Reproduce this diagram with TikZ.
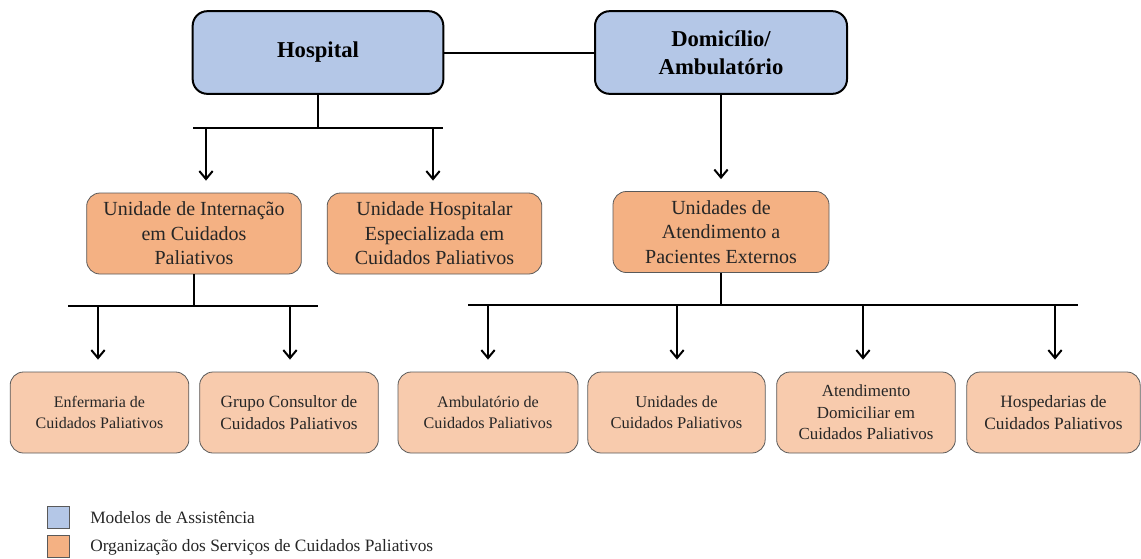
\documentclass[tikz,border=0pt]{standalone}
\usepackage{fontspec}
\setmainfont{Liberation Serif}
\usetikzlibrary{arrows.meta}
\definecolor{modelblue}{HTML}{B4C7E7}
\definecolor{orgorange}{HTML}{F4B183}
\definecolor{lightorange}{HTML}{F8CBAD}
\definecolor{txt}{HTML}{262626}
\tikzset{
  model/.style={draw=black, line width=1.5pt, fill=modelblue, rounded corners=11pt,
    minimum width=188pt, minimum height=62pt, align=center, inner sep=0pt,
    font=\fontsize{17}{21}\selectfont\bfseries, text=black},
  unitbox/.style={draw=black!65, line width=0.6pt, fill=orgorange, rounded corners=10pt,
    minimum width=161pt, minimum height=60.75pt, align=center, inner sep=0pt,
    font=\fontsize{15}{18.4}\selectfont, text=txt},
  servicebox/.style={draw=black!65, line width=0.6pt, fill=lightorange, rounded corners=10pt,
    minimum width=134pt, minimum height=60.75pt, align=center, inner sep=0pt,
    font=\fontsize{#1}{16}\selectfont, text=txt},
  servicebox/.default=12,
  link/.style={line width=1.5pt, black},
  arrowlink/.style={link, -{Straight Barb[length=6pt,width=10pt,line width=1.5pt]}, shorten >=9pt},
  legendbox/.style={draw=black!65, line width=0.6pt, minimum width=16.5pt, minimum height=16pt, inner sep=0pt},
  legendtext/.style={anchor=west, font=\fontsize{13}{15}\selectfont, text=txt, inner sep=0pt}
}
\begin{document}
\begin{tikzpicture}[x=0.75pt, y=-0.75pt]
\useasboundingbox (0,0) rectangle (1141,558);

% top models
\node[model] (hosp) at (318,52.5) {Hospital};
\node[model, minimum width=189pt] (dom) at (721,52.5) {Domicílio/\\Ambulatório};

% second row
\node[unitbox] (intern) at (194,233.5) {Unidade de Internação\\em Cuidados\\Paliativos};
\node[unitbox] (hospesp) at (434.5,233.5) {Unidade Hospitalar\\Especializada em\\Cuidados Paliativos};
\node[unitbox, minimum width=162pt] (atend) at (721,232) {Unidades de\\Atendimento a\\Pacientes Externos};

% third row
\node[servicebox=12] (enf) at (99.5,412.5) {Enfermaria de\\Cuidados Paliativos};
\node[servicebox=12.9] (grupo) at (289,412.5) {Grupo Consultor de\\Cuidados Paliativos};
\node[servicebox=12.1, minimum width=135pt] (amb) at (488,412.5) {Ambulatório de\\Cuidados Paliativos};
\node[servicebox=12.4, minimum width=133pt] (unid) at (676.5,412.5) {Unidades de\\Cuidados Paliativos};
\node[servicebox=12.7] (domic) at (866,412.5) {Atendimento\\Domiciliar em\\Cuidados Paliativos};
\node[servicebox=13, minimum width=130pt] (hospd) at (1053.5,412.5) {Hospedarias de\\Cuidados Paliativos};

% connector between models
\draw[link] (hosp.east) -- (dom.west);

% hospital branch
\coordinate (hbL) at (193,128);
\coordinate (hbR) at (443,128);
\coordinate (ha1) at (206,128);
\coordinate (ha2) at (433,128);
\draw[link] (hosp.south) -- (hosp.south |- hbL);
\draw[link] (hbL) -- (hbR);
\draw[arrowlink] (ha1) -- (ha1 |- intern.north);
\draw[arrowlink] (ha2) -- (ha2 |- hospesp.north);

% domicilio branch
\draw[arrowlink] (dom.south) -- (atend.north);

% internacao branch
\coordinate (ibL) at (68,306);
\coordinate (ibR) at (318,306);
\coordinate (ia1) at (98,306);
\coordinate (ia2) at (290,306);
\draw[link] (intern.south) -- (intern.south |- ibL);
\draw[link] (ibL) -- (ibR);
\draw[arrowlink] (ia1) -- (ia1 |- enf.north);
\draw[arrowlink] (ia2) -- (ia2 |- grupo.north);

% atendimento branch
\coordinate (abL) at (468,305);
\coordinate (abR) at (1078,305);
\coordinate (aa1) at (488,305);
\coordinate (aa2) at (677,305);
\coordinate (aa3) at (863,305);
\coordinate (aa4) at (1055,305);
\draw[link] (atend.south) -- (atend.south |- abL);
\draw[link] (abL) -- (abR);
\draw[arrowlink] (aa1) -- (aa1 |- amb.north);
\draw[arrowlink] (aa2) -- (aa2 |- unid.north);
\draw[arrowlink] (aa3) -- (aa3 |- domic.north);
\draw[arrowlink] (aa4) -- (aa4 |- hospd.north);

% legend
\node[legendbox, fill=modelblue] (lg1) at (58,517.5) {};
\node[legendbox, fill=orgorange] (lg2) at (58,546.5) {};
\node[legendtext] (lt1) at (90,517.5) {Modelos de Assistência};
\node[legendtext] (lt2) at (90,547) {Organização dos Serviços de Cuidados Paliativos};
\end{tikzpicture}
\end{document}
